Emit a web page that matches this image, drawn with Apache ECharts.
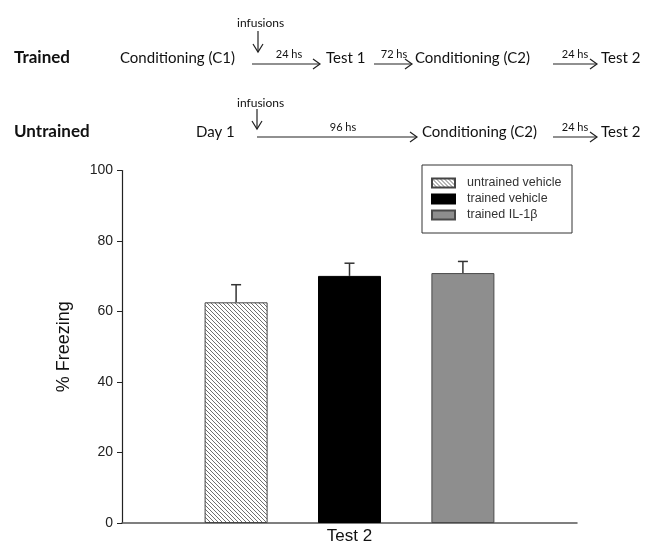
<!DOCTYPE html>
<html lang="en">
<head>
    <meta charset="UTF-8">
    <title>Test 2 freezing</title>
    <style>
        html,body{margin:0;padding:0;background:#fff;}
        #container{width:659px;height:545px;}
    </style>
    <script src="https://cdn.jsdelivr.net/npm/echarts@6/dist/echarts.min.js"></script>
</head>
<body>
<div id="container"></div>
<script type="text/javascript">
    // data
    var groups = ['untrained vehicle', 'trained vehicle', 'trained IL-1\u03b2'];
    var means = [62.6, 70.1, 70.9];
    var errs = [5.0, 3.6, 3.3];
    var testLabels = ['Test 2'];
    var yTicks = [0, 20, 40, 60, 80, 100];

    var myChart = echarts.init(document.getElementById('container'));

    // diagonal hatch tile for the untrained bar
    function hatch() {
        var s = 4;
        var c = document.createElement('canvas');
        c.width = s; c.height = s;
        var ctx = c.getContext('2d');
        ctx.fillStyle = '#fff';
        ctx.fillRect(0, 0, s, s);
        ctx.strokeStyle = '#707070';
        ctx.lineWidth = 1;
        for (var k = -1; k <= 1; k++) {
            ctx.beginPath();
            ctx.moveTo(k * s, 0);
            ctx.lineTo(k * s + s, s);
            ctx.stroke();
        }
        return {image: c, repeat: 'repeat'};
    }

    var fills = [hatch(), '#000', '#8e8e8e'];
    var borders = ['#444', '#000', '#4a4a4a'];
    var barW = 63, barGap = 0.8;
    var axisFont = '"Liberation Sans", Arial, sans-serif';

    // header diagram pieces
    var hFont = 'Lato, "Open Sans", sans-serif';
    var g = [];
    function txt(x, y, s, size, bold, align) {
        g.push({type: 'text', x: x, y: y, style: {
            text: s, fill: '#111', font: (bold ? 'bold ' : '') + size + 'px ' + hFont,
            textAlign: align || 'left', textVerticalAlign: 'middle'}});
    }
    function arrowH(x1, x2, y, label, lx) {
        g.push({type: 'polyline', shape: {points: [[x1, y], [x2, y]]}, style: {stroke: '#222', lineWidth: 1.2}});
        g.push({type: 'polyline', shape: {points: [[x2 - 7, y - 5], [x2, y], [x2 - 7, y + 5]]}, style: {stroke: '#222', lineWidth: 1.2, fill: null}});
        txt(lx, y - 10, label, 11, false, 'center');
    }
    function arrowD(x, y1, y2) {
        g.push({type: 'polyline', shape: {points: [[x, y1], [x, y2]]}, style: {stroke: '#222', lineWidth: 1.2}});
        g.push({type: 'polyline', shape: {points: [[x - 5, y2 - 8], [x, y2], [x + 5, y2 - 8]]}, style: {stroke: '#222', lineWidth: 1.2, fill: null}});
    }
    // Trained row
    txt(14, 58, 'Trained', 17, true);
    txt(120, 58, 'Conditioning (C1)', 15);
    txt(237, 23, 'infusions', 12);
    arrowD(258, 31, 52);
    arrowH(252, 320, 64, '24 hs', 289);
    txt(326, 58, 'Test 1', 15);
    arrowH(374, 412, 64, '72 hs', 394);
    txt(415, 58, 'Conditioning (C2)', 15);
    arrowH(553, 597, 64, '24 hs', 575);
    txt(601, 58, 'Test 2', 15);
    // Untrained row
    txt(14, 132, 'Untrained', 17, true);
    txt(196, 132, 'Day 1', 15);
    txt(237, 103, 'infusions', 12);
    arrowD(257, 109, 129);
    arrowH(257, 417, 137, '96 hs', 343);
    txt(422, 132, 'Conditioning (C2)', 15);
    arrowH(553, 597, 137, '24 hs', 575);
    txt(601, 132, 'Test 2', 15);
    // legend frame
    g.push({type: 'rect', shape: {x: 422, y: 165, width: 150, height: 68}, style: {fill: null, stroke: '#333', lineWidth: 1}});

    var series = [];
    for (var i = 0; i < groups.length; i++) {
        series.push({
            name: groups[i],
            type: 'bar',
            data: [means[i]],
            barWidth: barW,
            barGap: (barGap * 100) + '%',
            itemStyle: {color: fills[i], borderColor: borders[i], borderWidth: 1},
            emphasis: {disabled: true}
        });
    }
    var errData = means.map(function (m, i) { return [0, i, m, m + errs[i]]; });
    series.push({
        type: 'custom',
        data: errData,
        z: 5,
        renderItem: function (params, api) {
            var idx = api.value(1);
            var step = barW * (1 + barGap);
            var base = api.coord([api.value(0), api.value(2)]);
            var top = api.coord([api.value(0), api.value(3)]);
            var x = base[0] + (idx - 1) * step;
            var st = {stroke: '#333', lineWidth: 1.5};
            return {type: 'group', children: [
                {type: 'line', shape: {x1: x, y1: base[1], x2: x, y2: top[1]}, style: st},
                {type: 'line', shape: {x1: x - 5, y1: top[1], x2: x + 5, y2: top[1]}, style: st}
            ]};
        }
    });

    var option = {
        backgroundColor: '#fff',
        animation: false,
        graphic: g,
        grid: {left: 122, right: 82, top: 170.5, bottom: 21.7},
        legend: {
            data: groups,
            orient: 'vertical',
            icon: 'rect',
            left: 431, top: 176,
            padding: 0,
            itemWidth: 23, itemHeight: 9, itemGap: 2,
            selectedMode: false,
            textStyle: {fontSize: 12.5, lineHeight: 14, color: '#333', fontFamily: axisFont, padding: [0, 0, 0, 7]}
        },
        xAxis: {
            type: 'category',
            data: testLabels,
            axisTick: {show: false},
            axisLine: {lineStyle: {color: '#555', width: 1.5}},
            axisLabel: {fontSize: 17, color: '#111', margin: 5, fontFamily: axisFont}
        },
        yAxis: {
            type: 'value',
            min: yTicks[0], max: yTicks[yTicks.length - 1], interval: 20,
            name: '% Freezing',
            nameLocation: 'middle',
            nameGap: 49,
            nameTextStyle: {fontSize: 18, color: '#111', fontFamily: axisFont},
            splitLine: {show: false},
            axisLine: {show: true, lineStyle: {color: '#222', width: 1.2}},
            axisTick: {show: true, length: 5, lineStyle: {color: '#222'}},
            axisLabel: {fontSize: 14, color: '#222', margin: 9, fontFamily: axisFont}
        },
        series: series
    };

    myChart.setOption(option);
</script>
</body>
</html>
